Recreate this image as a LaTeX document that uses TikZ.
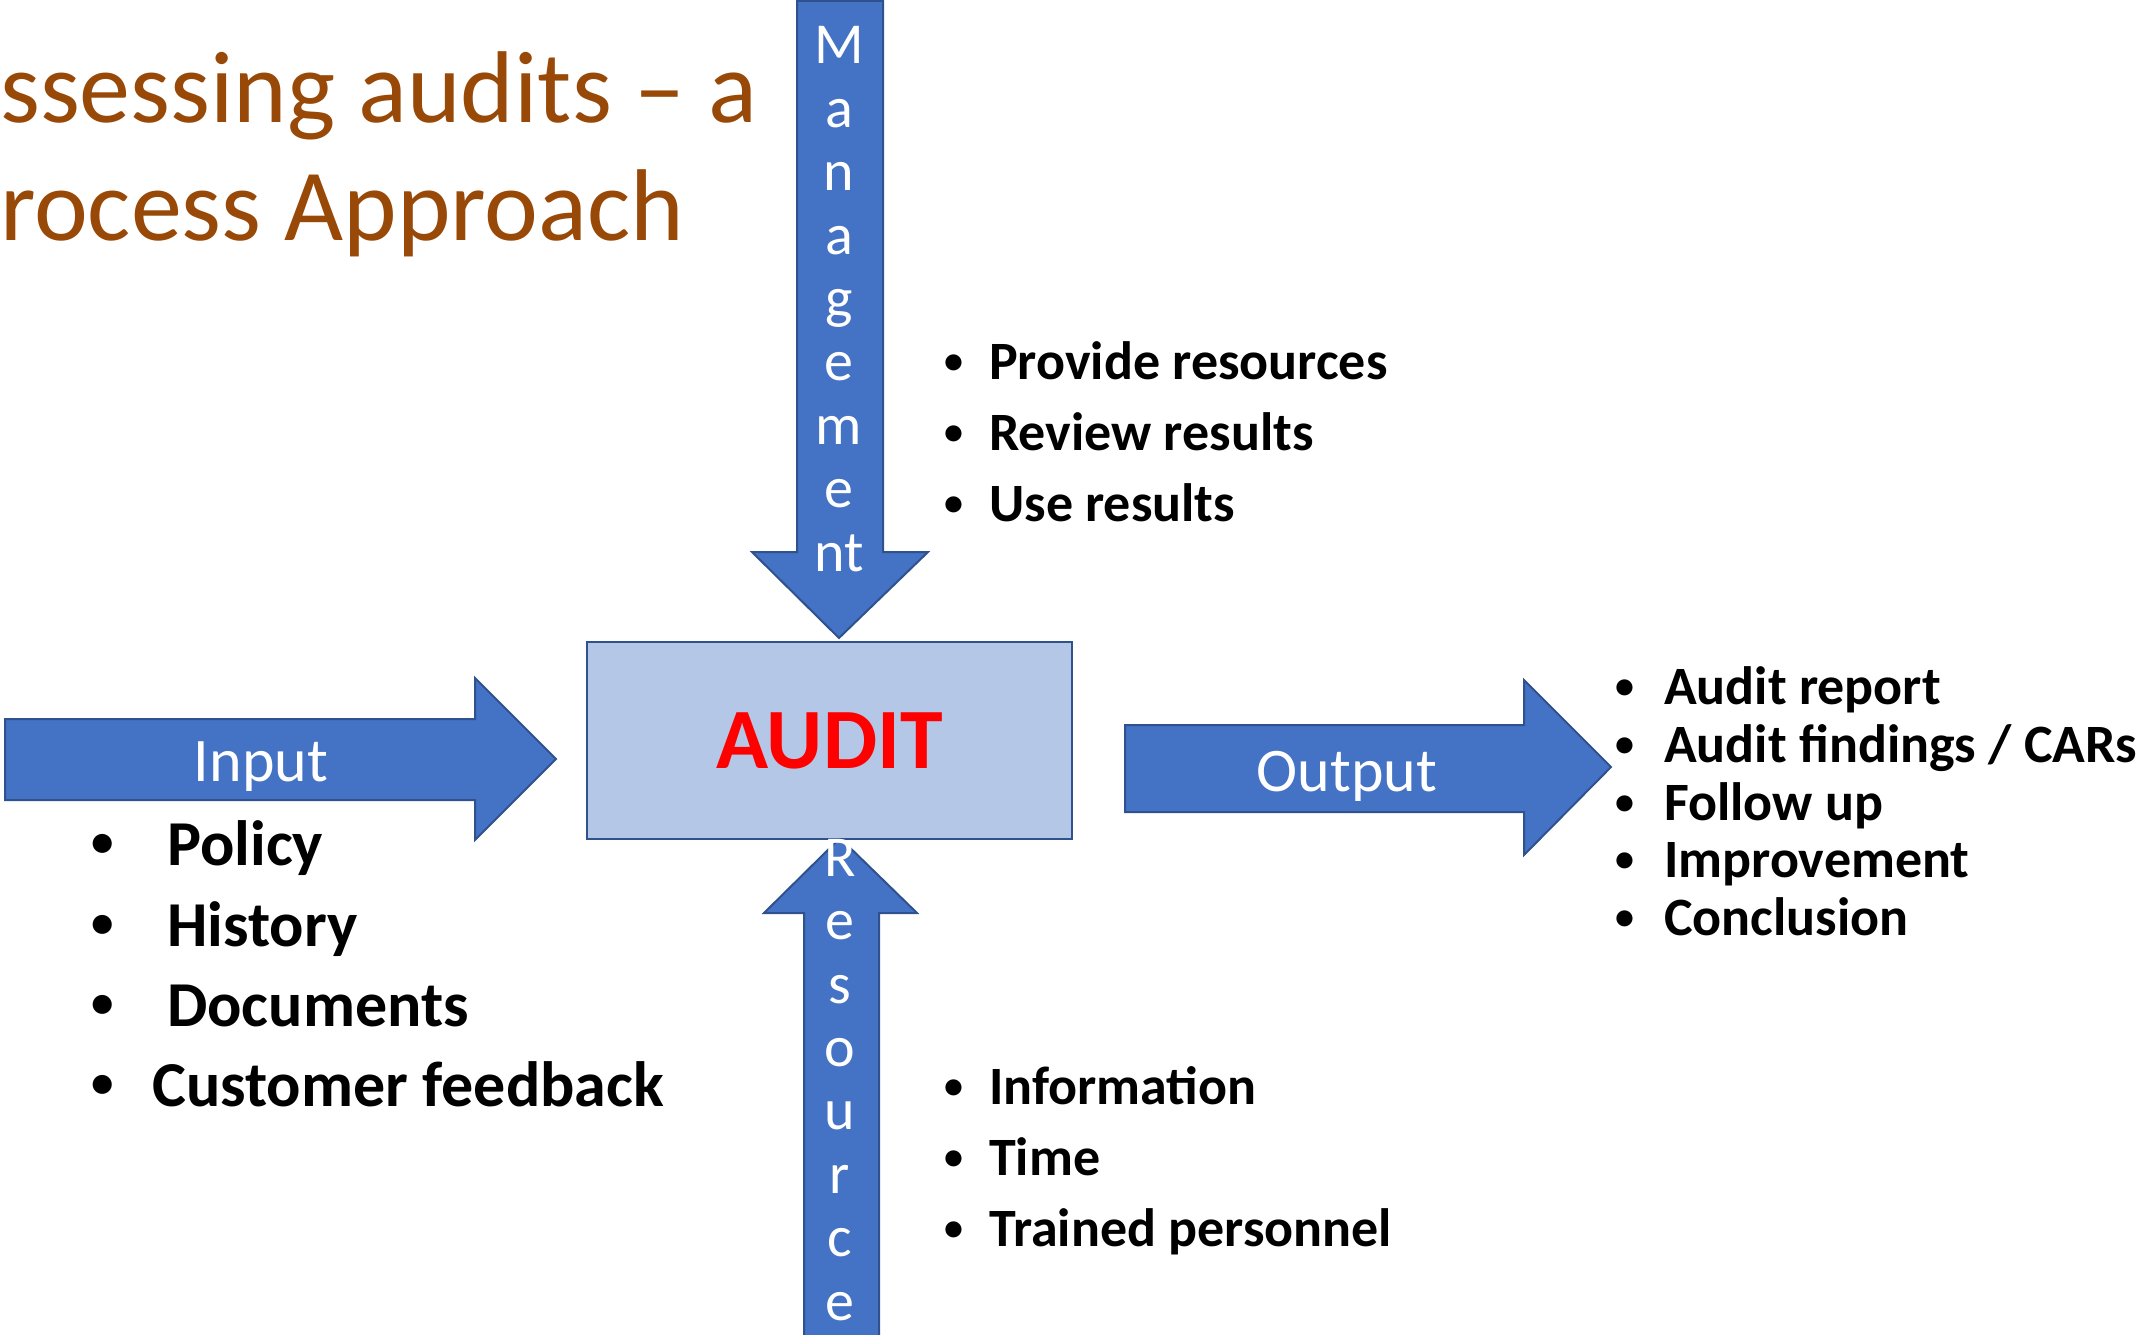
\documentclass[tikz,border=0pt]{standalone}
\usepackage{fontspec}
\setmainfont{Carlito}
\definecolor{arrowblue}{HTML}{4472C4}
\definecolor{arrowedge}{HTML}{2F528F}
\definecolor{boxblue}{HTML}{B4C7E7}
\definecolor{titlebrown}{HTML}{984807}
\definecolor{auditred}{HTML}{FF0000}
\newcommand{\mybulsm}[1]{\makebox[#1][l]{\raisebox{5.8pt}{\fontsize{38}{38}\selectfont •}}}
\newcommand{\mybulbg}[1]{\makebox[#1][l]{\raisebox{8.6pt}{\fontsize{45}{45}\selectfont •}}}
\tikzset{
  blockarrow/.style={fill=arrowblue, draw=arrowedge, line width=2pt, line join=miter},
  auditbox/.style={rectangle, fill=boxblue, draw=arrowedge, line width=2.5pt, inner sep=0pt},
  arrowlabel/.style={text=white, inner sep=0pt, font=\fontsize{62}{74}\selectfont},
  vertlabel/.style={text=white, inner sep=0pt, align=center, font=\fontsize{58}{63.4}\selectfont},
  bulsmall/.style={inner sep=0pt, anchor=base west, font=\bfseries\fontsize{54}{65}\selectfont},
  bulbig/.style={inner sep=0pt, anchor=base west, font=\bfseries\fontsize{64}{76}\selectfont},
  titletext/.style={inner sep=0pt, anchor=base west, text=titlebrown, font=\fontsize{102}{124}\selectfont}
}
\begin{document}
\begin{tikzpicture}[x=1pt,y=-1pt]
\useasboundingbox (0,0) rectangle (2136,1335);
\clip (0,0) rectangle (2136,1335);

% title
\node[titletext] (title1) at (0,123) {ssessing audits – a};
\node[titletext] (title2) at (0,240) {rocess Approach};

% management arrow (down)
\draw[blockarrow] (797,1) -- (883,1) -- (883,552) -- (928,552) -- (839,638) -- (752,552) -- (797,552) -- cycle;
% input arrow (right)
\draw[blockarrow] (5,719) -- (475,719) -- (475,678) -- (556,759) -- (475,840) -- (475,800) -- (5,800) -- cycle;
% output arrow (right)
\draw[blockarrow] (1125,725) -- (1524,725) -- (1524,680) -- (1611,767) -- (1524,855) -- (1524,812) -- (1125,812) -- cycle;
% resource arrow (up)
\draw[blockarrow] (804,1345) -- (804,913) -- (764,913) -- (840,838) -- (917,913) -- (879,913) -- (879,1345) -- cycle;

% audit box
\node[auditbox, minimum width=485pt, minimum height=197pt, text=auditred,
      font=\bfseries\fontsize{86}{100}\selectfont] (audit) at (829.5,740.5) {AUDIT};

% arrow labels
\node[arrowlabel, anchor=base] (inlabel) at (261,781) {Input};
\node[arrowlabel, anchor=base] (outlabel) at (1347,791) {Output};
\node[vertlabel, anchor=base] (mgmt) at (839,571) {M\\a\\n\\a\\g\\e\\m\\e\\nt};
\node[vertlabel, anchor=base] (res) at (840,1320) {R\\e\\s\\o\\u\\r\\c\\e};

% management bullets
\node[bulsmall] (m1) at (944.5,379) {\mybulsm{44.5pt}Provide resources};
\node[bulsmall] (m2) at (944.5,450) {\mybulsm{44.5pt}Review results};
\node[bulsmall] (m3) at (944.5,521) {\mybulsm{44.5pt}Use results};

% resource bullets
\node[bulsmall] (r1) at (944.5,1104) {\mybulsm{44.5pt}Information};
\node[bulsmall] (r2) at (944.5,1175) {\mybulsm{44.5pt}Time};
\node[bulsmall] (r3) at (944.5,1246) {\mybulsm{44.5pt}Trained personnel};

% output bullets
\node[bulsmall] (o1) at (1615.5,704) {\mybulsm{48.5pt}Audit report};
\node[bulsmall] (o2) at (1615.5,762) {\mybulsm{48.5pt}Audit findings / CARs};
\node[bulsmall] (o3) at (1615.5,820) {\mybulsm{48.5pt}Follow up};
\node[bulsmall] (o4) at (1615.5,877) {\mybulsm{48.5pt}Improvement};
\node[bulsmall] (o5) at (1615.5,935) {\mybulsm{48.5pt}Conclusion};

% input bullets
\node[bulbig] (i1) at (91,865) {\mybulbg{76pt}Policy};
\node[bulbig] (i2) at (91,946) {\mybulbg{76pt}History};
\node[bulbig] (i3) at (91,1026) {\mybulbg{76pt}Documents};
\node[bulbig] (i4) at (91,1106) {\mybulbg{61pt}Customer feedback};
\end{tikzpicture}
\end{document}
